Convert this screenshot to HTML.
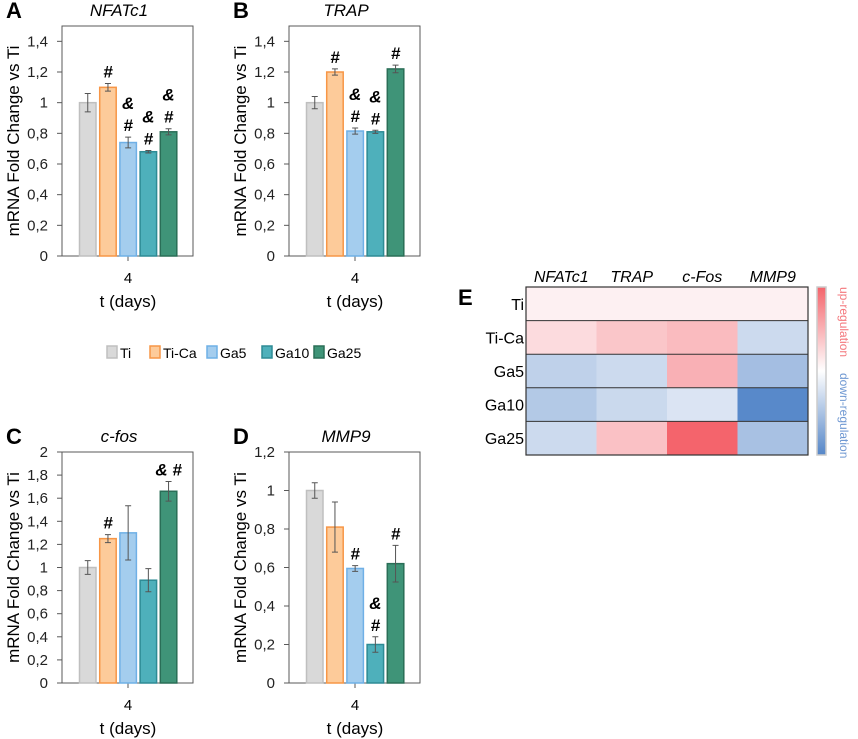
<!DOCTYPE html>
<html><head><meta charset="utf-8"><style>
body{margin:0;background:#fff}
svg{display:block;font-family:"Liberation Sans",sans-serif}
</style></head><body>
<svg id="fig" width="858" height="739" viewBox="0 0 858 739"></svg>
<script>
const groups=["Ti","Ti-Ca","Ga5","Ga10","Ga25"];
const nfatc1Vals=[1,1.10,0.74,0.68,0.81];
const nfatc1Err=[0.06,0.025,0.035,0.008,0.02];
const nfatc1Ann=["","#","&#","&#","&#"];
const trapVals=[1,1.20,0.815,0.81,1.22];
const trapErr=[0.04,0.02,0.02,0.01,0.025];
const trapAnn=["","#","&#","&#","#"];
const cfosVals=[1,1.25,1.30,0.89,1.66];
const cfosErr=[0.06,0.035,0.235,0.10,0.085];
const cfosAnn=["","#","","","& #"];
const mmp9Vals=[1,0.81,0.595,0.20,0.62];
const mmp9Err=[0.04,0.13,0.015,0.04,0.095];
const mmp9Ann=["","","#","&#","#"];
const ticksAB=[0,0.2,0.4,0.6,0.8,1,1.2,1.4];
const ticksC=[0,0.2,0.4,0.6,0.8,1,1.2,1.4,1.6,1.8,2];
const ticksD=[0,0.2,0.4,0.6,0.8,1,1.2];
const heatGenes=["NFATc1","TRAP","c-Fos","MMP9"];
const heatNFATc1=[1,1.10,0.74,0.68,0.81];
const heatTRAP=[1,1.20,0.81,0.80,1.22];
const heatCFos=[1,1.25,1.30,0.89,1.66];
const heatMMP9=[1,0.81,0.60,0.20,0.62];

const fills=["#d9d9d9","#fdcb9a","#a4cdee","#4eb0bb","#3f9478"];
const strokes=["#bfbfbf","#f79646","#6fb0e6","#2e8b95","#2a6e57"];
const NS="http://www.w3.org/2000/svg";
const svg=document.getElementById('fig');
function mk(tag,at,parent,txt){const e=document.createElementNS(NS,tag);for(const k in at)e.setAttribute(k,at[k]);if(txt!==undefined)e.textContent=txt;(parent||svg).appendChild(e);return e;}
function fmt(v){return String(+v.toFixed(1)).replace('.',',');}

function panel(id,letter,title,dx,bottom,top,max,ticks,vals,errs,anns){
  const g=mk('g',{});
  
  
  const L=62+dx,R=193+dx,C=128+dx;
  const y=v=>bottom-(v/max)*(bottom-top);
  const pl=mk('text',{x:dx+6,y:top-8,'font-size':22,'font-weight':'bold'},g,letter);
  
  
  const tt=mk('text',{x:C-9,y:top-10,'font-size':17,'font-style':'italic','text-anchor':'middle'},g,title);
  
  
  mk('rect',{x:L,y:top,width:R-L,height:bottom-top,fill:'none',stroke:'#595959','stroke-width':1},g);
  ticks.forEach(t=>{
    mk('line',{x1:L-5,x2:L,y1:y(t),y2:y(t),stroke:'#595959'},g);
    const tl=mk('text',{x:L-14,y:y(t)+5,'font-size':15,'text-anchor':'end',fill:'#222'},g,fmt(t));
    
    
  });
  mk('line',{x1:C,x2:C,y1:bottom,y2:bottom+5,stroke:'#595959'},g);
  const xt=mk('text',{x:C,y:bottom+27,'font-size':15,'text-anchor':'middle'},g,'4');
  
  
  const xl=mk('text',{x:C,y:bottom+51,'font-size':17,'text-anchor':'middle'},g,'t (days)');
  
  
  const cy=(top+bottom)/2;
  const yl=mk('text',{x:dx+19,y:cy,'font-size':17,'text-anchor':'middle',transform:`rotate(-90 ${dx+19} ${cy})`},g,'mRNA Fold Change vs Ti');
  
  
  vals.forEach((v,i)=>{
    const bx=C-48.5+i*20.2;
    const b=mk('rect',{x:bx,y:y(v),width:16.5,height:bottom-y(v),fill:fills[i],stroke:strokes[i],'stroke-width':1.5},g);
    
    
    const cx=bx+8.25,e=errs[i];
    const eb=mk('path',{d:`M${cx} ${y(v+e)}V${y(v-e)}M${cx-3} ${y(v+e)}H${cx+3}M${cx-3} ${y(v-e)}H${cx+3}`,stroke:'#555','stroke-width':1,fill:'none'},g);
    
    
    const a=anns[i];
    if(a){
      const base=y(v+e)-6;
      if(a==="&#"){
        const t1=mk('text',{x:cx,y:base,'font-size':17,'font-weight':'bold','font-style':'italic','text-anchor':'middle'},g,'#');
        
        
        const t2=mk('text',{x:cx,y:base-22,'font-size':17,'font-weight':'bold','font-style':'italic','text-anchor':'middle'},g,'&');
        
        
      } else {
        const t1=mk('text',{x:cx,y:base,'font-size':17,'font-weight':'bold','font-style':'italic','text-anchor':'middle'},g,a);
        
        
      }
    }
  });
}
panel('a','A','NFATc1',0,256,26,1.5,ticksAB,nfatc1Vals,nfatc1Err,nfatc1Ann);
panel('b','B','TRAP',227,256,26,1.5,ticksAB,trapVals,trapErr,trapAnn);
panel('c','C','c-fos',0,683,452,2,ticksC,cfosVals,cfosErr,cfosAnn);
panel('d','D','MMP9',227,683,452,1.2,ticksD,mmp9Vals,mmp9Err,mmp9Ann);

// legend
const lg=mk('g',{});


const lx=[107,150,207,262,314];
groups.forEach((n,i)=>{
  const s=mk('rect',{x:lx[i],y:346,width:10,height:12,fill:fills[i],stroke:strokes[i],'stroke-width':1.5},lg);
  
  
  const t=mk('text',{x:lx[i]+13,y:358,'font-size':14},lg,n);
  
  
});

// heatmap
const hg=mk('g',{});


function lerp(a,b,t){return a.map((x,i)=>Math.round(x+(b[i]-x)*t));}
function colorFor(v){
  const mid=[253,240,242],up=[244,100,108],dn=[88,137,202];
  if(v>=1){return 'rgb('+lerp(mid,up,Math.min(1,(v-1)/0.66))+')';}
  return 'rgb('+lerp([240,243,249],dn,Math.min(1,(1-v)/0.8))+')';
}
const hm=[heatNFATc1,heatTRAP,heatCFos,heatMMP9];
const HX=526,HY=287,HW=282,HH=168,cw=HW/4,rh=HH/5;
const el=mk('text',{x:458,y:305,'font-size':22,'font-weight':'bold'},hg,'E');


hm.forEach((col,j)=>{
  col.forEach((v,i)=>{
    const c=mk('rect',{x:HX+j*cw,y:HY+i*rh,width:cw+0.5,height:rh+0.5,fill:colorFor(v)},hg);
    
    
  });
  const h=mk('text',{x:HX+j*cw+cw/2,y:282,'font-size':16,'font-style':'italic','text-anchor':'middle'},hg,heatGenes[j]);
  
  
});
groups.forEach((n,i)=>{
  mk('line',{x1:HX,x2:HX+HW,y1:HY+i*rh,y2:HY+i*rh,stroke:'#333','stroke-width':1},hg);
  const t=mk('text',{x:HX-2,y:HY+i*rh+rh/2+6,'font-size':16,'text-anchor':'end'},hg,n);
  
  
});
mk('rect',{x:HX,y:HY,width:HW,height:HH,fill:'none',stroke:'#333','stroke-width':1.2},hg);
const defs=mk('defs',{});
const lgd=mk('linearGradient',{id:'cb',x1:0,y1:0,x2:0,y2:1},defs);
mk('stop',{offset:'0','stop-color':'#f4646b'},lgd);
mk('stop',{offset:'0.5','stop-color':'#ffffff'},lgd);
mk('stop',{offset:'1','stop-color':'#5586c8'},lgd);
const cb=mk('rect',{x:817,y:287,width:9,height:168,fill:'url(#cb)',stroke:'#ccc','stroke-width':1.5},hg);


const up=mk('text',{x:840,y:287,'font-size':12,fill:'#f4777c',transform:'rotate(90 840 287)'},hg,'up-regulation');


const dn=mk('text',{x:840,y:373,'font-size':12,fill:'#6f98d2',transform:'rotate(90 840 373)'},hg,'down-regulation');


</script>
</body></html>
